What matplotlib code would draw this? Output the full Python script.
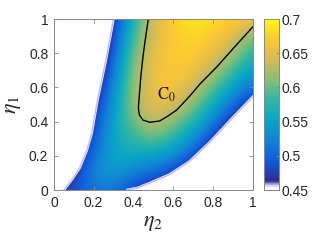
import numpy as np
import matplotlib
matplotlib.use("Agg")
import matplotlib.pyplot as plt
from matplotlib.colors import LinearSegmentedColormap
from matplotlib.patches import Polygon

plt.rcParams['font.family'] = ['Liberation Sans', 'DejaVu Sans']
plt.rcParams['mathtext.fontset'] = 'stix'

# field values on a 0.1 grid (rows: eta1 = 0..1, cols: eta2 = 0..1)
eta2_grid = [0.0, 0.1, 0.2, 0.3, 0.4, 0.5, 0.6, 0.7, 0.8, 0.9, 1.0]
eta1_grid = [0.0, 0.1, 0.2, 0.3, 0.4, 0.5, 0.6, 0.7, 0.8, 0.9, 1.0]
field = [
    [0.47, 0.49, 0.51, 0.515, 0.47, 0.445, 0.415, 0.36, 0.30, 0.22, 0.145],
    [0.40, 0.465, 0.53, 0.545, 0.52, 0.505, 0.475, 0.42, 0.36, 0.28, 0.205],
    [0.37, 0.44, 0.51, 0.56, 0.555, 0.55, 0.535, 0.485, 0.42, 0.34, 0.265],
    [0.35, 0.42, 0.49, 0.56, 0.58, 0.60, 0.575, 0.535, 0.475, 0.40, 0.325],
    [0.315, 0.395, 0.475, 0.555, 0.60, 0.638, 0.61, 0.575, 0.52, 0.46, 0.385],
    [0.29, 0.375, 0.46, 0.545, 0.62, 0.655, 0.645, 0.61, 0.56, 0.51, 0.445],
    [0.26, 0.35, 0.44, 0.53, 0.62, 0.66, 0.665, 0.64, 0.595, 0.55, 0.505],
    [0.23, 0.325, 0.42, 0.515, 0.615, 0.66, 0.67, 0.66, 0.63, 0.585, 0.545],
    [0.185, 0.29, 0.395, 0.50, 0.605, 0.655, 0.67, 0.675, 0.655, 0.62, 0.575],
    [0.17, 0.275, 0.38, 0.485, 0.59, 0.65, 0.67, 0.68, 0.67, 0.65, 0.60],
    [0.17, 0.27, 0.37, 0.47, 0.57, 0.645, 0.675, 0.69, 0.685, 0.675, 0.665],
]

# edges of the feasible region
left_eta2 = [0.05, 0.09, 0.13, 0.165, 0.19, 0.205, 0.22, 0.26, 0.30, 0.31]
left_eta1 = [0.0, 0.06, 0.13, 0.23, 0.33, 0.43, 0.53, 0.75, 1.0, 1.05]
bottom_eta2 = [1.05, 1.0, 0.885, 0.785, 0.68, 0.58, 0.48, 0.42, 0.365]
bottom_eta1 = [0.60, 0.545, 0.405, 0.28, 0.165, 0.09, 0.04, 0.012, 0.0]

# contour C0
c0_eta2 = [0.475, 0.463, 0.449, 0.438, 0.430, 0.425, 0.430, 0.448, 0.483,
           0.533, 0.574, 0.618, 0.684, 0.735, 0.819, 0.901, 1.0]
c0_eta1 = [1.0, 0.906, 0.789, 0.673, 0.556, 0.480, 0.439, 0.409, 0.396,
           0.404, 0.433, 0.468, 0.550, 0.620, 0.719, 0.826, 0.953]

cbar_ticks = [0.45, 0.5, 0.55, 0.6, 0.65, 0.7]
cbar_labels = ['0.45', '0.5', '0.55', '0.6', '0.65', '0.7']
axis_ticks = [0, 0.2, 0.4, 0.6, 0.8, 1]
axis_labels = ['0', '0.2', '0.4', '0.6', '0.8', '1']

parula = ['#352a87', '#0f5cdd', '#1481d6', '#06a4ca', '#2eb7a4',
          '#87bf77', '#d1bb59', '#fec832', '#f9fb0e']
stops = [(0.0, 'white'), (0.012, 'white'), (0.03, '#b8b8ee')]
for k, c in enumerate(parula):
    stops.append((0.05 + 0.95 * k / (len(parula) - 1), c))
cmap = LinearSegmentedColormap.from_list('parula_w', stops)
cmap.set_under('white')

fig = plt.figure(figsize=(3.21, 2.41), dpi=100)
ax = fig.add_axes([0.168, 0.2116, 0.619, 0.7095])

im = ax.imshow(np.array(field), origin='lower', cmap=cmap, vmin=0.45, vmax=0.7,
               extent=(-0.05, 1.05, -0.05, 1.05), interpolation='bicubic',
               interpolation_stage='data', aspect='auto')
verts = list(zip(left_eta2, left_eta1)) + [(1.05, 1.05)] + list(zip(bottom_eta2, bottom_eta1))
clip = Polygon(verts, closed=True, transform=ax.transData, facecolor='none', edgecolor='none')
ax.add_patch(clip)
im.set_clip_path(clip)

# soft lavender rim along the region edges
for ex, ey in [(left_eta2, left_eta1), (bottom_eta2, bottom_eta1)]:
    ax.plot(ex, ey, color='#ebebfa', lw=1.8, solid_capstyle='butt')
    ax.plot(ex, ey, color='#b4b4ea', lw=0.7, solid_capstyle='butt')

ax.plot(c0_eta2, c0_eta1, color='black', lw=1.0)
ax.text(0.52, 0.53, r'$\mathrm{C}_0$', fontsize=12, color='#111111')

ax.set_xlim(0, 1)
ax.set_ylim(0, 1)
ax.set_xticks(axis_ticks)
ax.set_xticklabels(axis_labels)
ax.set_yticks(axis_ticks)
ax.set_yticklabels(axis_labels)
ax.tick_params(direction='in', length=3, width=0.6, colors='#888888',
               labelcolor='#262626', labelsize=10, top=True, right=True, pad=4)
for s in ax.spines.values():
    s.set_color('#888888')
    s.set_linewidth(0.7)
    s.set_zorder(5)
ax.set_xlabel(r'$\eta_2$', fontsize=16, color='#262626', labelpad=2)
ax.set_ylabel(r'$\eta_1$', fontsize=16, color='#262626', labelpad=4)

cax = fig.add_axes([0.822, 0.2116, 0.047, 0.7095])
cb = fig.colorbar(im, cax=cax, ticks=cbar_ticks)
cb.ax.set_yticklabels(cbar_labels)
cb.ax.tick_params(direction='in', length=2.5, width=0.6, colors='#888888',
                  labelcolor='#262626', labelsize=10, pad=2)
cb.outline.set_edgecolor('#888888')
cb.outline.set_linewidth(0.7)

fig.savefig('out.png', dpi=100)
